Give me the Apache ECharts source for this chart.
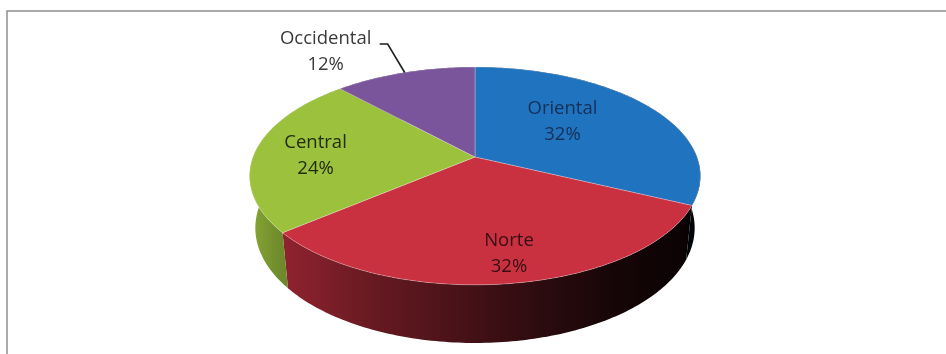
<!DOCTYPE html>
<html>
<head>
<meta charset="utf-8">
<script src="https://cdn.jsdelivr.net/npm/echarts@6/dist/echarts.min.js"></script>
<style>
  html, body { margin: 0; padding: 0; background: #fff; }
  #chart { width: 946px; height: 354px; }
</style>
</head>
<body>
<div id="chart"></div>
<script>
// Regions and their share of the total
const categories = ['Oriental', 'Norte', 'Central', 'Occidental'];
const shares = [32, 32, 24, 12];

// Slice styling
const sliceColors = ['#1f73bf', '#c93141', '#9bc13d', '#7a559b'];
const labelColors = ['#163056', '#360e13', '#212c0a', '#3a3a3a'];

// Where each label sits inside its slice: fraction along the slice's arc and radius
const labelFrac = [0.43, 0.48, 0.47, 0.5];
const labelRadius = [0.55, 0.8, 0.72, null];

// 3D view of the disc: perspective camera tilted above the front
const VIEW = {
  cx: 475, cy: 157,      // where the disc centre lands on screen
  focal: 1121,           // focal length (px per unit at unit depth)
  dist: 5.05,            // camera distance, in disc radii
  tilt: 28.4 * Math.PI / 180,
  thickness: 0.27        // disc height, in disc radii
};
const S = Math.sin(VIEW.tilt), C = Math.cos(VIEW.tilt);

// phi: angle clockwise from the far side, r: radius fraction, h: height (0 = top face)
function project(phi, r, h) {
  const x = r * Math.sin(phi);
  const z = -r * Math.cos(phi);
  const depth = VIEW.dist - (h * S + z * C);
  const up = h * C - z * S;
  return [VIEW.cx + VIEW.focal * x / depth, VIEW.cy - VIEW.focal * up / depth];
}

const total = shares.reduce((a, b) => a + b, 0);
const starts = [];
shares.reduce((acc, v, i) => { starts[i] = acc; return acc + v; }, 0);

function sliceAngles(i) {
  const a = starts[i] / total * Math.PI * 2;
  const b = (starts[i] + shares[i]) / total * Math.PI * 2;
  return [a, b];
}

function rimPoints(a, b, h) {
  const pts = [];
  const n = Math.max(2, Math.ceil((b - a) / (Math.PI / 180)));
  for (let k = 0; k <= n; k++) pts.push(project(a + (b - a) * k / n, 1, h));
  return pts;
}

function shade(hex, f) {
  const n = parseInt(hex.slice(1), 16);
  const r = Math.round(((n >> 16) & 255) * f);
  const g = Math.round(((n >> 8) & 255) * f);
  const b = Math.round((n & 255) * f);
  return 'rgb(' + r + ',' + g + ',' + b + ')';
}

// Side walls get darker towards the right, as if lit from the left
const lightStops = [[0, 0.9], [0.08, 0.72], [0.3, 0.5], [0.55, 0.3], [0.8, 0.12], [1, 0.04]];

const left = project(-Math.PI / 2, 1, 0)[0];
const right = project(Math.PI / 2, 1, 0)[0];

function renderSide(params) {
  const i = params.dataIndex;
  const [a, b] = sliceAngles(i);
  const top = rimPoints(a, b, 0);
  const bottom = rimPoints(a, b, -VIEW.thickness).reverse();
  return {
    type: 'polygon',
    shape: { points: top.concat(bottom) },
    style: {
      fill: {
        type: 'linear', x: left - 10, y: 0, x2: right, y2: 0, global: true,
        colorStops: lightStops.map(([o, f]) => ({ offset: o, color: shade(sliceColors[i], f) }))
      },
      stroke: null
    }
  };
}

function renderTop(params) {
  const i = params.dataIndex;
  const [a, b] = sliceAngles(i);
  const pts = [project(0, 0, 0)].concat(rimPoints(a, b, 0));
  const pct = Math.round(shares[i] / total * 100) + '%';
  const children = [{
    type: 'polygon',
    shape: { points: pts },
    style: { fill: sliceColors[i], stroke: 'rgba(255,255,255,0.35)', lineWidth: 0.8 }
  }];
  const textStyle = {
    text: categories[i] + '\n' + pct,
    fill: labelColors[i],
    fontFamily: '"Open Sans", sans-serif',
    fontSize: 18.5,
    lineHeight: 26,
    align: 'center',
    verticalAlign: 'middle'
  };
  const mid = a + (b - a) * labelFrac[i];
  if (labelRadius[i] != null) {
    const p = project(mid, labelRadius[i], 0);
    children.push({ type: 'text', x: p[0], y: p[1], z2: 10, style: textStyle });
  } else {
    // Outside label with a leader line from the rim
    const rim = project(mid, 1, 0);
    const elbow = [rim[0] - 17, rim[1] - 28.5];
    const end = [elbow[0] - 8, elbow[1]];
    children.push({
      type: 'polyline', z2: 10,
      shape: { points: [rim, elbow, end] },
      style: { stroke: '#1e1e1e', lineWidth: 1.6, fill: null }
    });
    children.push({ type: 'text', x: end[0] - 54, y: end[1] + 8, z2: 10, style: textStyle });
  }
  return { type: 'group', children };
}

const data = categories.map((name, i) => ({ name, value: shares[i] }));

const chart = echarts.init(document.getElementById('chart'), null, { renderer: 'canvas' });
chart.setOption({
  backgroundColor: '#ffffff',
  animation: false,
  graphic: [{
    type: 'rect',
    shape: { x: 7, y: 11, width: 960, height: 360 },
    style: { fill: null, stroke: '#8e8e8e', lineWidth: 1.5 },
    silent: true
  }],
  series: [
    { type: 'custom', coordinateSystem: 'none', z: 1, renderItem: renderSide, data },
    { type: 'custom', coordinateSystem: 'none', z: 2, renderItem: renderTop, data }
  ]
});
</script>
</body>
</html>
